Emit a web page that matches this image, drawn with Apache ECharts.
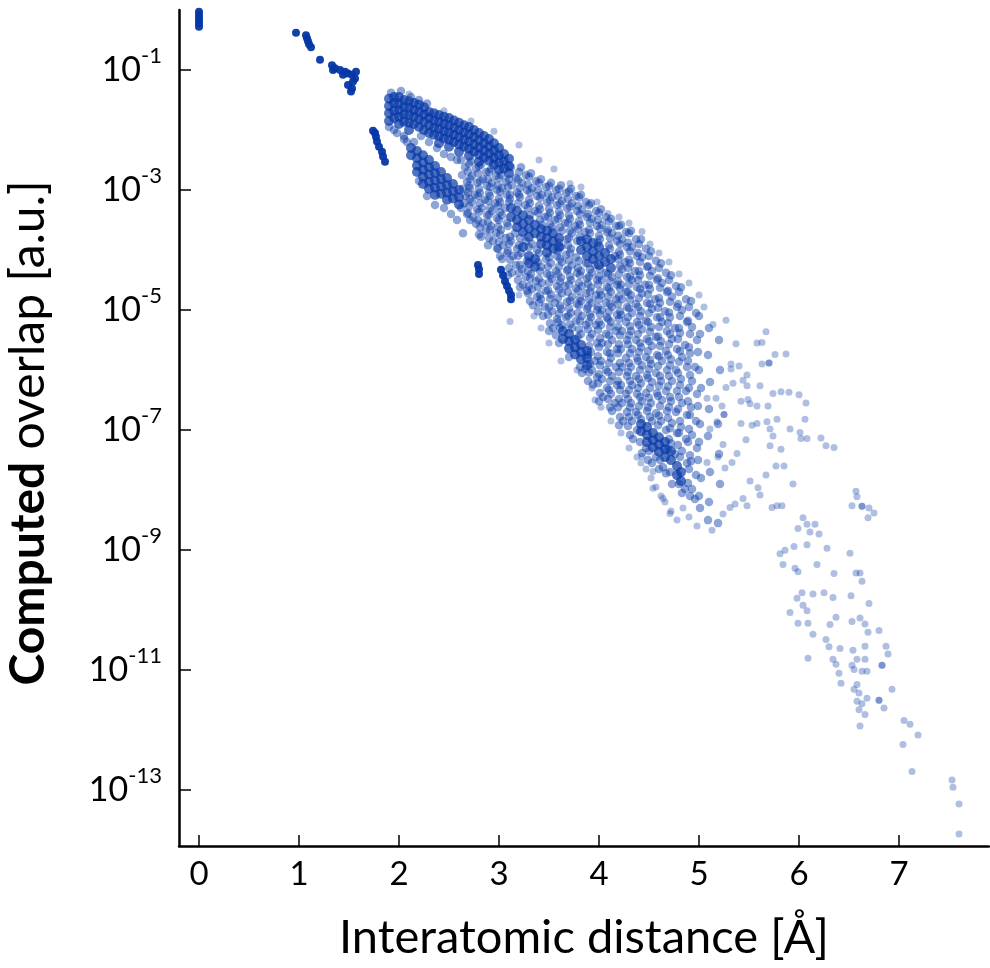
<!DOCTYPE html>
<html>
<head>
<meta charset="utf-8">
<script src="https://cdn.jsdelivr.net/npm/echarts@6.0.0/dist/echarts.min.js"></script>
<style>html,body{margin:0;padding:0;background:#fff}#chart{width:990px;height:968px}</style>
</head>
<body>
<div id="chart"></div>
<script>
// Tick values
const xTicks = [0, 1, 2, 3, 4, 5, 6, 7];
const yTickExponents = [-1, -3, -5, -7, -9, -11, -13];

// All point lists: [interatomic distance (Å), log10(computed overlap)]
// Heavily overlapping (saturated) groups
const solidLogPts = [
  [0,-0.03],[0,-0.08],[0,-0.13],[0,-0.18],[0,-0.23],[0,-0.28],
  [0.97,-0.38],
  [1.07,-0.42],[1.08,-0.47],[1.09,-0.52],[1.10,-0.57],[1.12,-0.62],
  [1.21,-0.83],
  [1.33,-0.92],[1.36,-0.97],[1.34,-1.0],[1.41,-1.0],[1.46,-1.03],[1.44,-1.08],[1.49,-1.06],[1.53,-1.08],[1.57,-1.03],[1.56,-1.14],[1.54,-1.19],[1.49,-1.25],[1.53,-1.31],[1.52,-1.36],
  [1.74,-2.01],[1.76,-2.05],[1.77,-2.11],[1.78,-2.19],[1.80,-2.28],[1.83,-2.36],[1.84,-2.44],[1.86,-2.53],
  [2.79,-4.25],[2.80,-4.32],[2.80,-4.4],
  [3.02,-4.33],[3.04,-4.42],[3.06,-4.52],[3.08,-4.6],[3.10,-4.68],[3.12,-4.75],[3.12,-4.82]
];

// Dense cores of the main cloud
const coreLogPts = [
  [1.90,-1.48],[1.90,-1.6],[1.90,-1.72],[1.90,-1.85],
  [1.95,-1.45],[1.95,-1.55],[1.95,-1.68],[1.95,-1.8],
  [2.00,-1.45],[2.00,-1.56],[2.00,-1.67],[2.00,-1.78],[2.00,-1.9],
  [2.05,-1.5],[2.05,-1.62],[2.05,-1.74],[2.05,-1.86],
  [2.10,-1.52],[2.10,-1.63],[2.10,-1.75],[2.10,-1.88],[2.10,-2.0],
  [2.15,-1.55],[2.15,-1.67],[2.15,-1.78],[2.15,-1.9],
  [2.20,-1.58],[2.20,-1.7],[2.20,-1.82],[2.20,-1.95],
  [2.25,-1.62],[2.25,-1.74],[2.25,-1.86],[2.25,-2.0],
  [2.30,-1.7],[2.30,-1.8],[2.30,-1.92],[2.30,-2.05],
  [2.35,-1.72],[2.35,-1.84],[2.35,-1.96],[2.35,-2.08],
  [2.40,-1.75],[2.40,-1.86],[2.40,-1.98],[2.40,-2.1],[2.40,-2.22],
  [2.45,-1.78],[2.45,-1.9],[2.45,-2.02],[2.45,-2.14],
  [2.50,-1.8],[2.50,-1.92],[2.50,-2.04],[2.50,-2.16],[2.50,-2.28],
  [2.55,-1.84],[2.55,-1.96],[2.55,-2.08],[2.55,-2.2],
  [2.60,-1.88],[2.60,-2.0],[2.60,-2.12],[2.60,-2.24],[2.60,-2.36],
  [2.65,-1.92],[2.65,-2.04],[2.65,-2.16],[2.65,-2.28],
  [2.70,-1.95],[2.70,-2.07],[2.70,-2.19],[2.70,-2.31],[2.70,-2.43],
  [2.75,-2.0],[2.75,-2.12],[2.75,-2.24],[2.75,-2.36],
  [2.80,-2.05],[2.80,-2.17],[2.80,-2.29],[2.80,-2.41],[2.80,-2.53],
  [2.85,-2.1],[2.85,-2.22],[2.85,-2.34],[2.85,-2.46],
  [2.90,-2.15],[2.90,-2.27],[2.90,-2.39],[2.90,-2.51],
  [2.95,-2.22],[2.95,-2.34],[2.95,-2.46],[2.95,-2.58],
  [3.00,-2.3],[3.00,-2.42],[3.00,-2.54],[3.00,-2.66],
  [3.05,-2.4],[3.05,-2.52],[3.05,-2.64],
  [3.10,-2.48],[3.10,-2.6],[3.10,-2.72],
  [2.12,-2.3],[2.12,-2.42],
  [2.18,-2.35],[2.18,-2.47],[2.18,-2.59],[2.18,-2.7],
  [2.24,-2.42],[2.24,-2.54],[2.24,-2.66],[2.24,-2.78],[2.24,-2.9],
  [2.30,-2.5],[2.30,-2.62],[2.30,-2.74],[2.30,-2.86],[2.30,-2.98],
  [2.36,-2.6],[2.36,-2.72],[2.36,-2.84],[2.36,-2.96],[2.36,-3.08],
  [2.42,-2.7],[2.42,-2.82],[2.42,-2.94],[2.42,-3.06],
  [2.48,-2.8],[2.48,-2.92],[2.48,-3.04],[2.48,-3.16],
  [2.54,-2.9],[2.54,-3.02],[2.54,-3.14],
  [2.60,-3.0],[2.60,-3.12],[2.60,-3.24],
  [3.12,-3.3],[3.12,-3.45],
  [3.18,-3.35],[3.18,-3.5],[3.18,-3.62],
  [3.24,-3.42],[3.24,-3.56],[3.24,-3.7],[3.24,-3.95],
  [3.30,-3.5],[3.30,-3.64],[3.30,-3.78],[3.30,-4.1],[3.30,-4.22],
  [3.36,-3.58],[3.36,-3.72],[3.36,-4.15],[3.36,-4.28],
  [3.42,-3.65],[3.42,-3.78],[3.42,-3.9],
  [3.48,-3.68],[3.48,-3.8],[3.48,-3.92],[3.48,-4.04],
  [3.54,-3.72],[3.54,-3.85],[3.54,-3.98],
  [3.60,-3.8],[3.60,-3.95],
  [3.82,-3.85],[3.82,-4.0],
  [3.88,-3.82],[3.88,-3.95],[3.88,-4.1],
  [3.94,-3.88],[3.94,-4.02],[3.94,-4.15],
  [4.00,-3.95],[4.00,-4.1],[4.00,-4.25],
  [4.06,-4.05],[4.06,-4.2],
  [4.12,-4.15],[4.12,-4.3],
  [3.64,-5.35],[3.64,-5.48],
  [3.70,-5.4],[3.70,-5.52],[3.70,-5.64],
  [3.76,-5.5],[3.76,-5.62],[3.76,-5.74],
  [3.82,-5.58],[3.82,-5.7],[3.82,-5.82],
  [3.88,-5.68],[3.88,-5.8],[3.88,-5.92],
  [4.42,-6.9],[4.42,-7.02],
  [4.48,-6.95],[4.48,-7.08],[4.48,-7.2],
  [4.54,-7.05],[4.54,-7.17],[4.54,-7.29],
  [4.60,-7.12],[4.60,-7.24],[4.60,-7.36],
  [4.66,-7.2],[4.66,-7.32],[4.66,-7.45],
  [4.72,-7.35],[4.72,-7.5],
  [4.78,-7.6],[4.78,-7.75],
  [4.82,-7.7],[4.82,-7.85]
];

// Medium-density fill of the main cloud (first pass)
const midLogPts = [
  [1.92,-1.38],[2.02,-1.35],[2.12,-1.45],[2.20,-1.5],[1.90,-1.95],[1.98,-2.05],[2.05,-2.1],[2.28,-1.56],[2.08,-2.2],
  [2.15,-2.2],[2.22,-2.1],[2.30,-2.2],[2.38,-2.3],[2.45,-2.4],[2.52,-2.45],[2.58,-2.5],
  [2.20,-2.85],[2.28,-3.1],[2.36,-3.25],[2.45,-3.3],[2.52,-3.4],[2.58,-3.5],[2.64,-3.72],[1.95,-2.0],[2.05,-2.15],
  [2.62,-2.5],[2.66,-2.62],[2.63,-2.75],[2.68,-2.86],[2.64,-2.98],[2.67,-3.1],[2.62,-3.3],[2.68,-3.4],[2.65,-3.22],
  [2.72,-2.52],[2.77,-2.64],[2.73,-2.76],[2.78,-2.88],[2.71,-2.97],[2.76,-3.08],[2.73,-3.2],[2.78,-3.32],[2.74,-3.45],[2.77,-3.56],
  [2.82,-2.58],[2.87,-2.7],[2.84,-2.82],[2.88,-2.93],[2.81,-3.05],[2.86,-3.16],[2.83,-3.3],[2.88,-3.42],[2.84,-3.55],[2.87,-3.68],[2.82,-3.78],
  [2.92,-2.65],[2.97,-2.76],[2.93,-2.88],[2.98,-3.0],[2.91,-3.1],[2.96,-3.22],[2.93,-3.35],[2.98,-3.47],[2.92,-3.6],[2.97,-3.72],[2.94,-3.85],[2.98,-3.97],
  [3.02,-2.75],[3.07,-2.86],[3.03,-2.97],[3.08,-3.08],[3.01,-3.2],[3.06,-3.3],[3.03,-3.42],[3.08,-3.55],[3.02,-3.66],[3.07,-3.8],[3.04,-3.92],[3.08,-4.05],[3.03,-4.15],
  [3.12,-2.62],[3.17,-2.8],[3.13,-2.92],[3.18,-3.04],[3.11,-3.15],[3.16,-3.72],[3.12,-3.85],[3.18,-3.98],[3.14,-4.1],[3.17,-4.25],[3.13,-4.38],
  [3.22,-2.62],[3.27,-2.75],[3.23,-2.88],[3.28,-3.0],[3.21,-3.12],[3.26,-3.25],[3.27,-3.85],[3.22,-4.05],[3.28,-4.18],[3.23,-4.32],[3.27,-4.45],[3.24,-4.58],[3.28,-4.68],
  [3.32,-2.72],[3.37,-2.85],[3.33,-2.97],[3.38,-3.1],[3.31,-3.22],[3.36,-3.35],[3.33,-3.9],[3.38,-4.0],[3.32,-4.4],[3.37,-4.52],[3.33,-4.65],[3.38,-4.78],[3.34,-4.92],
  [3.42,-2.82],[3.47,-2.95],[3.43,-3.08],[3.48,-3.2],[3.41,-3.32],[3.46,-3.45],[3.43,-3.58],[3.47,-4.15],[3.42,-4.28],[3.48,-4.4],[3.43,-4.55],[3.47,-4.68],[3.42,-4.82],[3.46,-4.95],[3.44,-5.1],
  [3.52,-2.88],[3.57,-3.0],[3.53,-3.12],[3.58,-3.25],[3.51,-3.38],[3.56,-3.5],[3.53,-3.62],[3.58,-4.1],[3.52,-4.22],[3.57,-4.35],[3.53,-4.48],[3.58,-4.6],[3.52,-4.74],[3.56,-4.88],[3.53,-5.02],[3.58,-5.15],[3.54,-5.3],[3.57,-5.42],
  [3.62,-2.92],[3.67,-3.05],[3.63,-3.18],[3.68,-3.3],[3.61,-3.42],[3.66,-3.55],[3.63,-3.68],[3.68,-3.82],[3.62,-3.95],[3.67,-4.08],[3.63,-4.2],[3.68,-4.34],[3.62,-4.46],[3.66,-4.6],[3.63,-4.72],[3.68,-4.86],[3.62,-4.98],[3.67,-5.12],[3.63,-5.25],
  [3.72,-2.98],[3.77,-3.1],[3.73,-3.22],[3.78,-3.35],[3.71,-3.48],[3.76,-3.6],[3.73,-3.72],[3.78,-3.85],[3.72,-3.98],[3.77,-4.12],[3.73,-4.25],[3.78,-4.38],[3.72,-4.5],[3.77,-4.64],[3.73,-4.78],[3.78,-4.9],[3.72,-5.05],[3.77,-5.18],[3.73,-5.3],
  [3.82,-3.08],[3.87,-3.2],[3.83,-3.32],[3.88,-3.45],[3.81,-3.58],[3.86,-3.7],[3.87,-4.22],[3.82,-4.35],[3.88,-4.48],[3.83,-4.6],[3.87,-4.72],[3.82,-4.85],[3.88,-4.98],[3.83,-5.1],[3.87,-5.25],[3.82,-5.4],[3.86,-5.98],[3.83,-6.05],
  [3.92,-3.22],[3.97,-3.35],[3.93,-3.48],[3.98,-3.6],[3.91,-3.72],[3.96,-4.25],[3.93,-4.38],[3.98,-4.5],[3.92,-4.62],[3.97,-4.75],[3.93,-4.88],[3.98,-5.0],[3.92,-5.12],[3.97,-5.25],[3.93,-5.4],[3.98,-5.55],[3.92,-5.7],[3.96,-5.85],[3.93,-6.0],[3.98,-6.12],[3.94,-6.24],
  [4.02,-3.32],[4.07,-3.45],[4.03,-3.58],[4.08,-3.7],[4.01,-3.82],[4.07,-4.38],[4.03,-4.5],[4.08,-4.62],[4.02,-4.75],[4.07,-4.88],[4.03,-5.0],[4.08,-5.12],[4.02,-5.25],[4.07,-5.4],[4.03,-5.55],[4.08,-5.7],[4.02,-5.85],[4.07,-6.0],[4.03,-6.15],[4.08,-6.3],[4.04,-6.45],
  [4.12,-3.48],[4.17,-3.6],[4.13,-3.72],[4.18,-3.85],[4.11,-3.98],[4.16,-4.1],[4.13,-4.45],[4.18,-4.58],[4.12,-4.7],[4.17,-4.82],[4.13,-4.95],[4.18,-5.08],[4.12,-5.2],[4.17,-5.35],[4.13,-5.5],[4.18,-5.65],[4.12,-5.8],[4.17,-5.95],[4.13,-6.1],[4.18,-6.25],[4.12,-6.4],[4.16,-6.55],[4.13,-6.68],
  [4.22,-3.58],[4.27,-3.7],[4.23,-3.82],[4.28,-3.95],[4.21,-4.08],[4.26,-4.2],[4.23,-4.32],[4.28,-4.45],[4.22,-4.58],[4.27,-4.7],[4.23,-4.82],[4.28,-4.95],[4.22,-5.08],[4.27,-5.2],[4.23,-5.35],[4.28,-5.5],[4.22,-5.65],[4.27,-5.8],[4.23,-5.95],[4.28,-6.1],[4.22,-6.25],[4.27,-6.4],[4.23,-6.55],[4.28,-6.7],[4.24,-6.85],
  [4.32,-3.68],[4.37,-3.82],[4.33,-3.95],[4.38,-4.1],[4.31,-4.22],[4.36,-4.35],[4.33,-4.5],[4.38,-4.62],[4.32,-4.75],[4.37,-4.9],[4.33,-5.05],[4.38,-5.2],[4.32,-5.35],[4.37,-5.5],[4.33,-5.65],[4.38,-5.8],[4.32,-5.95],[4.37,-6.1],[4.33,-6.25],[4.38,-6.4],[4.32,-6.55],[4.37,-6.7],[4.33,-6.85],[4.38,-7.0],[4.34,-7.15],
  [4.42,-3.82],[4.47,-3.98],[4.43,-4.12],[4.48,-4.28],[4.41,-4.42],[4.46,-4.58],[4.43,-4.72],[4.48,-4.88],[4.42,-5.02],[4.47,-5.18],[4.43,-5.32],[4.48,-5.48],[4.42,-5.62],[4.47,-5.78],[4.43,-5.92],[4.48,-6.08],[4.42,-6.22],[4.47,-6.38],[4.43,-6.52],[4.48,-6.68],[4.42,-6.82],[4.47,-7.3],[4.43,-7.38],
  [4.52,-4.02],[4.57,-4.18],[4.53,-4.35],[4.58,-4.5],[4.51,-4.65],[4.56,-4.82],[4.53,-4.98],[4.58,-5.12],[4.52,-5.28],[4.57,-5.45],[4.53,-5.6],[4.58,-5.75],[4.52,-5.9],[4.57,-6.05],[4.53,-6.2],[4.58,-6.38],[4.52,-6.55],[4.57,-6.72],[4.53,-6.85],[4.57,-7.45],[4.53,-7.55],
  [4.62,-4.22],[4.67,-4.38],[4.63,-4.55],[4.68,-4.7],[4.61,-4.88],[4.66,-5.02],[4.63,-5.2],[4.68,-5.35],[4.62,-5.52],[4.67,-5.68],[4.63,-5.85],[4.68,-6.0],[4.62,-6.18],[4.67,-6.35],[4.63,-6.5],[4.68,-6.68],[4.62,-6.85],[4.67,-7.0],[4.64,-7.62],[4.67,-7.72],
  [4.72,-4.42],[4.77,-4.6],[4.73,-4.78],[4.78,-4.95],[4.71,-5.12],[4.76,-5.3],[4.73,-5.48],[4.78,-5.65],[4.72,-5.82],[4.77,-6.0],[4.73,-6.18],[4.78,-6.35],[4.72,-6.52],[4.77,-6.7],[4.73,-6.88],[4.78,-7.05],[4.72,-7.22],[4.76,-7.4],[4.73,-7.9],
  [4.82,-4.62],[4.87,-4.82],[4.83,-5.0],[4.88,-5.2],[4.81,-5.38],[4.86,-5.58],[4.83,-5.78],[4.88,-5.95],[4.82,-6.15],[4.87,-6.35],[4.83,-6.55],[4.88,-6.75],[4.82,-6.95],[4.87,-7.15],[4.83,-7.35],[4.88,-7.55],[4.86,-7.98],[4.83,-8.05],
  [4.92,-4.85],[4.97,-5.05],[4.93,-5.28],[4.98,-5.5],[4.91,-5.72],[4.96,-5.95],[4.93,-6.18],[4.98,-6.4],[4.92,-6.62],[4.97,-6.85],[4.93,-7.08],[4.98,-7.3],[4.92,-7.52],[4.97,-7.75],[4.93,-7.98],[4.96,-8.15]
];

// Medium-density fill of the main cloud (second pass, between the first)
const midLogPts2 = [
  [2.70,-2.56],[2.69,-2.69],[2.71,-2.81],[2.70,-2.93],[2.69,-3.04],[2.71,-3.15],[2.70,-3.27],[2.69,-3.38],[2.71,-3.5],
  [2.80,-2.6],[2.79,-2.72],[2.81,-2.85],[2.80,-2.98],[2.79,-3.1],[2.81,-3.22],[2.80,-3.36],[2.79,-3.5],[2.81,-3.62],[2.80,-3.74],
  [2.90,-2.7],[2.89,-2.82],[2.91,-2.95],[2.90,-3.05],[2.89,-3.18],[2.91,-3.3],[2.90,-3.41],[2.89,-3.54],[2.91,-3.66],[2.90,-3.8],[2.89,-3.92],
  [3.00,-2.8],[2.99,-2.92],[3.01,-3.03],[3.00,-3.14],[2.99,-3.26],[3.01,-3.37],[3.00,-3.5],[2.99,-3.61],[3.01,-3.74],[3.00,-3.86],[2.99,-3.98],[3.01,-4.1],
  [3.10,-2.82],[3.09,-2.95],[3.11,-3.08],[3.10,-3.2],[3.09,-3.6],[3.11,-3.78],[3.10,-3.9],[3.09,-4.02],[3.11,-4.16],[3.10,-4.3],[3.09,-4.42],
  [3.20,-2.7],[3.19,-2.83],[3.21,-2.96],[3.20,-3.08],[3.19,-3.22],[3.21,-3.8],[3.20,-3.92],[3.19,-4.1],[3.21,-4.25],[3.20,-4.38],[3.19,-4.5],[3.21,-4.62],
  [3.30,-2.78],[3.29,-2.91],[3.31,-3.04],[3.30,-3.16],[3.29,-3.3],[3.31,-3.42],[3.30,-3.95],[3.29,-4.35],[3.31,-4.47],[3.30,-4.6],[3.29,-4.72],[3.31,-4.85],
  [3.40,-2.88],[3.39,-3.0],[3.41,-3.13],[3.40,-3.26],[3.39,-3.38],[3.41,-3.5],[3.40,-4.05],[3.39,-4.2],[3.41,-4.35],[3.40,-4.48],[3.39,-4.62],[3.41,-4.75],[3.40,-4.88],[3.39,-5.02],
  [3.50,-2.93],[3.49,-3.06],[3.51,-3.18],[3.50,-3.31],[3.49,-3.44],[3.51,-3.57],[3.50,-4.12],[3.49,-4.28],[3.51,-4.42],[3.50,-4.54],[3.49,-4.67],[3.51,-4.81],[3.50,-4.95],[3.49,-5.08],[3.51,-5.22],[3.50,-5.35],
  [3.60,-2.98],[3.59,-3.1],[3.61,-3.23],[3.60,-3.36],[3.59,-3.48],[3.61,-3.62],[3.60,-3.88],[3.59,-4.02],[3.61,-4.15],[3.60,-4.28],[3.59,-4.4],[3.61,-4.53],[3.60,-4.66],[3.59,-4.8],[3.61,-4.93],[3.60,-5.06],[3.59,-5.2],[3.61,-5.3],[3.60,-5.55],
  [3.70,-3.02],[3.69,-3.15],[3.71,-3.28],[3.70,-3.42],[3.69,-3.55],[3.71,-3.68],[3.70,-3.8],[3.69,-3.92],[3.71,-4.05],[3.70,-4.18],[3.69,-4.32],[3.71,-4.44],[3.70,-4.57],[3.69,-4.7],[3.71,-4.84],[3.70,-4.97],[3.69,-5.1],[3.71,-5.24],[3.70,-5.78],
  [3.80,-3.12],[3.79,-3.26],[3.81,-3.4],[3.80,-3.52],[3.79,-3.65],[3.81,-3.78],[3.80,-4.18],[3.79,-4.3],[3.81,-4.42],[3.80,-4.55],[3.79,-4.68],[3.81,-4.8],[3.80,-4.92],[3.79,-5.05],[3.81,-5.18],[3.80,-5.32],[3.79,-5.45],[3.81,-5.95],
  [3.90,-3.25],[3.89,-3.4],[3.91,-3.54],[3.90,-3.66],[3.89,-4.22],[3.91,-4.32],[3.90,-4.44],[3.89,-4.56],[3.91,-4.69],[3.90,-4.82],[3.89,-4.94],[3.91,-5.07],[3.90,-5.2],[3.89,-5.32],[3.91,-5.46],[3.90,-5.6],[3.89,-5.75],[3.91,-5.9],[3.90,-6.04],[3.89,-6.18],
  [4.00,-3.38],[3.99,-3.5],[4.01,-3.64],[4.00,-3.76],[3.99,-3.88],[4.01,-4.32],[4.00,-4.44],[3.99,-4.57],[4.01,-4.69],[4.00,-4.82],[3.99,-4.95],[4.01,-5.07],[4.00,-5.2],[3.99,-5.33],[4.01,-5.47],[4.00,-5.62],[3.99,-5.77],[4.01,-5.92],[4.00,-6.07],[3.99,-6.22],[4.01,-6.38],[4.00,-6.52],
  [4.10,-3.52],[4.09,-3.66],[4.11,-3.8],[4.10,-3.92],[4.09,-4.4],[4.11,-4.52],[4.10,-4.64],[4.09,-4.77],[4.11,-4.9],[4.10,-5.02],[4.09,-5.15],[4.11,-5.28],[4.10,-5.42],[4.09,-5.57],[4.11,-5.72],[4.10,-5.88],[4.09,-6.03],[4.11,-6.18],[4.10,-6.33],[4.09,-6.48],[4.11,-6.62],
  [4.20,-3.6],[4.19,-3.76],[4.21,-3.9],[4.20,-4.03],[4.19,-4.15],[4.21,-4.27],[4.20,-4.4],[4.19,-4.52],[4.21,-4.64],[4.20,-4.77],[4.19,-4.9],[4.21,-5.02],[4.20,-5.15],[4.19,-5.28],[4.21,-5.42],[4.20,-5.57],[4.19,-5.72],[4.21,-5.88],[4.20,-6.03],[4.19,-6.18],[4.21,-6.33],[4.20,-6.48],[4.19,-6.62],[4.21,-6.78],[4.20,-6.92],
  [4.30,-3.72],[4.29,-3.88],[4.31,-4.02],[4.30,-4.16],[4.29,-4.3],[4.31,-4.44],[4.30,-4.57],[4.29,-4.7],[4.31,-4.83],[4.30,-4.97],[4.29,-5.12],[4.31,-5.27],[4.30,-5.42],[4.29,-5.57],[4.31,-5.72],[4.30,-5.88],[4.29,-6.03],[4.31,-6.18],[4.30,-6.33],[4.29,-6.48],[4.31,-6.62],[4.30,-6.78],[4.29,-6.93],[4.31,-7.08],
  [4.40,-3.9],[4.39,-4.05],[4.41,-4.2],[4.40,-4.35],[4.39,-4.5],[4.41,-4.65],[4.40,-4.8],[4.39,-4.95],[4.41,-5.1],[4.40,-5.25],[4.39,-5.4],[4.41,-5.55],[4.40,-5.7],[4.39,-5.85],[4.41,-6.0],[4.40,-6.15],[4.39,-6.3],[4.41,-6.45],[4.40,-6.6],[4.39,-6.75],[4.41,-7.2],
  [4.50,-4.1],[4.49,-4.27],[4.51,-4.43],[4.50,-4.58],[4.49,-4.74],[4.51,-4.9],[4.50,-5.05],[4.49,-5.2],[4.51,-5.36],[4.50,-5.52],[4.49,-5.68],[4.51,-5.83],[4.50,-5.98],[4.49,-6.13],[4.51,-6.3],[4.50,-6.46],[4.49,-6.62],[4.51,-6.78],[4.50,-7.35],[4.49,-7.5],
  [4.60,-4.3],[4.59,-4.47],[4.61,-4.63],[4.60,-4.8],[4.59,-4.96],[4.61,-5.12],[4.60,-5.28],[4.59,-5.44],[4.61,-5.6],[4.60,-5.77],[4.59,-5.93],[4.61,-6.1],[4.60,-6.26],[4.59,-6.43],[4.61,-6.6],[4.60,-6.76],[4.59,-6.92],[4.61,-7.5],[4.60,-7.65],
  [4.70,-4.5],[4.69,-4.68],[4.71,-4.86],[4.70,-5.04],[4.69,-5.22],[4.71,-5.4],[4.70,-5.57],[4.69,-5.75],[4.71,-5.92],[4.70,-6.1],[4.69,-6.27],[4.71,-6.45],[4.70,-6.62],[4.69,-6.8],[4.71,-6.97],[4.70,-7.15],[4.69,-7.32],[4.71,-7.7],
  [4.80,-4.7],[4.79,-4.9],[4.81,-5.1],[4.80,-5.3],[4.79,-5.48],[4.81,-5.68],[4.80,-5.86],[4.79,-6.05],[4.81,-6.25],[4.80,-6.45],[4.79,-6.65],[4.81,-6.85],[4.80,-7.05],[4.79,-7.25],[4.81,-7.45],[4.80,-7.9],
  [4.90,-4.95],[4.89,-5.18],[4.91,-5.4],[4.90,-5.62],[4.89,-5.85],[4.91,-6.08],[4.90,-6.3],[4.89,-6.52],[4.91,-6.75],[4.90,-6.98],[4.89,-7.2],[4.91,-7.42],[4.90,-7.65],[4.89,-7.88],[4.91,-8.1],
  [5.00,-5.1],[5.01,-5.4],[4.99,-5.7],[5.00,-6.0],[5.02,-6.3],[4.99,-6.6],[5.01,-6.9],[5.00,-7.2],[4.99,-7.5],[5.02,-7.8],[5.00,-8.1],[5.01,-8.3],
  [5.10,-5.3],[5.09,-5.75],[5.11,-6.2],[5.10,-6.65],[5.09,-7.1],[5.11,-7.7],[5.10,-8.2],[5.09,-8.5],
  [5.20,-5.5],[5.21,-6.0],[5.19,-6.9],[5.20,-7.4],[5.21,-7.9],[5.19,-8.55]
];

// Scattered single points (edges and the sparse tail)
const sparseLogPts = [
  [2.10,-1.4],[2.45,-1.68],[2.72,-1.85],[2.95,-2.02],[3.20,-2.25],[3.40,-2.5],[3.55,-2.65],[3.71,-2.89],[3.82,-2.95],[3.98,-3.2],[4.09,-3.39],[4.20,-3.45],[4.30,-3.55],[4.43,-3.69],[4.51,-3.9],[4.60,-4.05],[4.70,-4.2],[4.80,-4.4],[4.90,-4.55],[5.00,-4.75],[5.05,-4.95],
  [3.11,-5.19],[3.20,-4.75],[3.35,-5.1],[3.42,-5.3],[3.50,-5.55],[3.62,-5.85],[3.78,-6.0],[3.93,-6.3],[3.96,-6.5],[4.02,-6.62],[4.12,-6.85],[4.22,-7.05],[4.30,-7.3],[4.38,-7.45],[4.43,-7.44],
  [4.42,-7.55],[4.47,-7.65],[4.54,-7.69],[4.52,-7.8],[4.57,-7.95],[4.54,-7.97],[4.62,-8.1],[4.64,-8.14],[4.66,-8.2],[4.72,-8.35],[4.71,-8.39],[4.78,-8.5],[4.84,-8.3],[4.90,-8.45],[4.98,-8.6],[5.13,-8.67],
  [5.27,-5.17],[5.14,-5.24],[5.67,-5.36],[5.37,-5.56],[5.58,-5.55],[5.63,-5.54],[5.87,-5.73],[5.76,-5.74],[5.70,-5.88],[5.70,-5.88],[5.63,-5.90],[5.32,-5.90],[5.40,-5.93],[5.32,-5.98],[5.48,-6.08],[5.44,-6.17],[5.34,-6.22],[5.27,-6.29],[5.61,-6.26],[5.48,-6.26],[5.74,-6.39],[5.82,-6.36],[5.90,-6.37],[6.00,-6.41],[6.07,-6.55],
  [5.08,-6.47],[5.17,-6.47],[5.49,-6.49],[5.42,-6.52],[5.51,-6.56],[5.58,-6.60],[5.69,-6.60],[5.23,-6.60],[6.06,-6.82],[5.78,-6.82],[5.68,-6.86],[5.58,-6.89],[5.53,-6.92],[5.42,-6.89],[5.25,-6.74],[5.25,-6.74],[5.18,-6.86],[5.11,-6.98],[5.91,-6.98],[5.71,-6.98],
  [5.74,-7.10],[6.01,-7.04],[6.02,-7.14],[6.08,-7.14],[6.22,-7.13],[6.27,-7.26],[6.35,-7.29],[5.82,-7.32],[5.71,-7.26],[5.47,-7.16],[5.38,-7.39],[5.24,-7.24],[5.19,-7.45],[5.08,-7.54],[5.26,-7.63],[5.33,-7.54],[5.77,-7.60],[5.85,-7.60],[5.67,-7.75],[5.94,-7.90],
  [5.51,-7.85],[5.59,-7.96],[5.61,-8.08],[5.44,-8.14],[5.36,-8.23],[5.48,-8.26],[5.31,-8.29],[5.24,-8.40],[5.78,-8.26],[5.83,-8.26],[5.73,-8.29],
  [6.57,-8.02],[6.58,-8.11],[6.53,-8.26],[6.63,-8.27],[6.63,-8.27],[6.70,-8.30],[6.69,-8.46],[6.75,-8.38],[6.04,-8.46],[6.08,-8.57],[6.16,-8.57],[6.20,-8.73],[6.11,-8.70],[6.28,-8.97],[5.99,-8.64],[6.08,-8.91],[5.95,-8.94],[5.86,-9.00],[5.81,-9.06],
  [5.84,-9.24],[5.96,-9.30],[5.99,-9.36],[6.18,-9.24],[6.35,-9.39],[6.51,-9.05],[6.57,-9.38],[6.61,-9.38],[6.63,-9.52],[6.70,-9.89],[6.52,-9.76],[6.34,-9.79],[6.25,-9.71],[6.14,-9.73],[6.03,-9.71],[5.98,-9.80],[6.04,-9.92],[6.08,-10.01],[5.91,-10.04],
  [5.99,-10.22],[6.09,-10.22],[6.14,-10.40],[6.31,-10.24],[6.37,-10.12],[6.53,-10.19],[6.61,-10.13],[6.66,-10.23],[6.69,-10.37],[6.80,-10.34],[6.27,-10.49],[6.30,-10.61],[6.41,-10.64],[6.54,-10.67],[6.66,-10.60],[6.87,-10.60],[6.89,-10.73],
  [6.58,-10.82],[6.66,-10.82],[6.83,-10.92],[6.83,-10.92],[6.09,-10.80],[6.34,-10.82],[6.37,-10.90],[6.40,-11.05],[6.42,-11.22],[6.53,-10.92],[6.55,-10.99],[6.63,-11.02],[6.68,-11.02],[6.58,-11.24],[6.55,-11.32],[6.60,-11.38],[6.68,-11.47],
  [6.58,-11.52],[6.63,-11.56],[6.80,-11.50],[6.80,-11.50],[6.85,-11.63],[6.93,-11.32],[6.60,-11.66],[6.66,-11.74],[6.61,-11.93],[7.05,-11.84],[7.11,-11.90],[7.19,-12.08],[7.04,-12.24],[7.13,-12.69],[7.53,-12.83],[7.54,-12.95],[7.60,-13.23],[7.60,-13.73]
];

const toPoint = p => [p[0], Math.pow(10, p[1])];
const dotColor = '#0537a6';
const font = 'Lato, "Open Sans", sans-serif';

const chart = echarts.init(document.getElementById('chart'), null, {renderer: 'canvas'});
function mk(name, pts, size, opacity) {
  return {
    name: name, type: 'scatter', data: pts.map(toPoint),
    symbol: 'circle', symbolSize: size,
    itemStyle: {color: dotColor, opacity: opacity},
    emphasis: {disabled: true}, silent: true
  };
}
const yTickVals = yTickExponents.map(e => Math.pow(10, e));
chart.setOption({
  animation: false,
  backgroundColor: '#ffffff',
  grid: {left: 179, right: 1, top: 10, bottom: 122, containLabel: false, outerBoundsMode: 'none'},
  xAxis: {
    type: 'value', min: -0.2, max: 7.9,
    name: 'Interatomic distance [Å]', nameLocation: 'middle', nameGap: 68,
    nameTextStyle: {fontFamily: font, fontSize: 47, color: '#000'},
    axisLine: {show: true, onZero: false, lineStyle: {color: '#000', width: 2.5}},
    axisTick: {show: true, inside: true, length: 11, customValues: xTicks, lineStyle: {color: '#000', width: 1.5}},
    axisLabel: {customValues: xTicks, margin: 12, fontFamily: font, fontSize: 33, color: '#000'},
    splitLine: {show: false}
  },
  yAxis: {
    type: 'log', logBase: 10, min: Math.pow(10, -13.93), max: 1,
    name: '{b|Computed} overlap [a.u.]', nameLocation: 'middle', nameGap: 126,
    nameTextStyle: {fontFamily: font, fontSize: 48, color: '#000', padding: [0, 10, 0, 0],
      rich: {b: {fontFamily: font, fontSize: 48, fontWeight: 'bold', color: '#000'}}},
    axisLine: {show: true, onZero: false, lineStyle: {color: '#000', width: 2.5}},
    axisTick: {show: true, inside: true, length: 12, customValues: yTickVals, lineStyle: {color: '#000', width: 1.5}},
    axisLabel: {
      customValues: yTickVals, margin: 17, padding: [0, 0, 6, 0],
      formatter: v => '{b|10}{s|' + Math.round(Math.log10(v)) + '}',
      rich: {
        b: {fontFamily: font, fontSize: 34, color: '#000', lineHeight: 40, verticalAlign: 'bottom'},
        s: {fontFamily: font, fontSize: 22, color: '#000', lineHeight: 20, verticalAlign: 'bottom', padding: [0, 0, 20, 0]}
      }
    },
    minorTick: {show: false},
    splitLine: {show: false}
  },
  series: [
    mk('sparse', sparseLogPts, 7, 0.32),
    mk('mid', midLogPts, 8.5, 0.45),
    mk('mid2', midLogPts2, 8.5, 0.45),
    mk('core', coreLogPts, 10, 0.7),
    mk('solid', solidLogPts, 8, 0.95)
  ]
});
</script>
</body>
</html>
